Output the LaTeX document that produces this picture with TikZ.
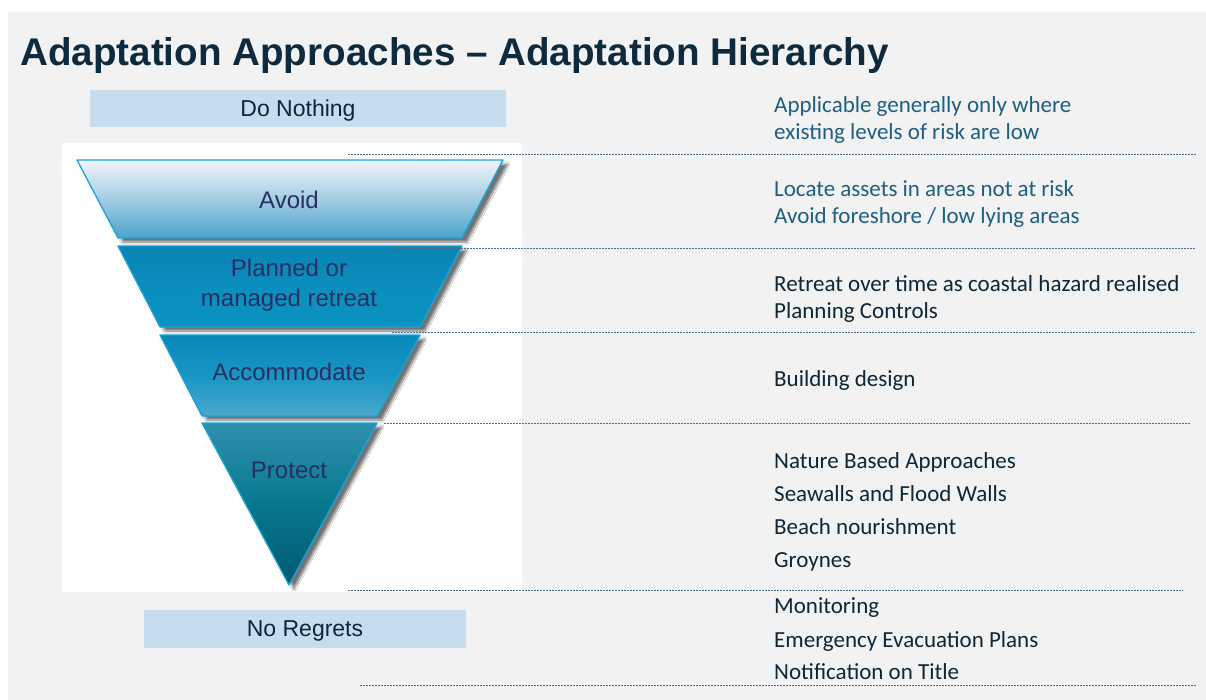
\documentclass[tikz,border=0pt]{standalone}
\usepackage{fontspec}
\setmainfont{Liberation Sans}
\newfontfamily\calib{Carlito}
\usetikzlibrary{shadows.blur}

\definecolor{slidegray}{HTML}{F2F2F2}
\definecolor{titlenavy}{HTML}{0D2A3E}
\definecolor{boxblue}{HTML}{C6DDED}
\definecolor{edgeblue}{HTML}{1AA3DC}
\definecolor{labelink}{HTML}{2A2F62}
\definecolor{tealtext}{HTML}{1E5F82}
\definecolor{darktext}{HTML}{0E2636}
\definecolor{rulecol}{HTML}{4E6C86}
% band shading colours
\definecolor{avoidtop}{HTML}{F2F5FA}
\definecolor{avoidmid}{HTML}{A3CCE2}
\definecolor{avoidbot}{HTML}{4AA4CC}
\definecolor{plantop}{HTML}{0984B3}
\definecolor{planmid}{HTML}{0A8EBE}
\definecolor{planbot}{HTML}{0C93C2}
\definecolor{acctop}{HTML}{0888B8}
\definecolor{accmid}{HTML}{1A95C3}
\definecolor{accbot}{HTML}{48A8CE}
\definecolor{prottop}{HTML}{3090AD}
\definecolor{protmid}{HTML}{07788F}
\definecolor{protbot}{HTML}{005A70}

\tikzset{
  band/.style={draw=edgeblue, line width=1.3pt, line join=round,
    blur shadow={shadow xshift=5pt, shadow yshift=-4pt,
      shadow blur steps=10, shadow opacity=55}},
  bandlabel/.style={font=\fontsize{24}{30}\selectfont, text=labelink,
    align=center, inner sep=0pt},
  levelbox/.style={fill=boxblue, draw=none, inner sep=0pt, text depth=0pt,
    font=\fontsize{23}{27}\selectfont, text=darktext},
  rtxt/.style={anchor=base west, inner sep=0pt,
    font=\calib\fontsize{23}{27}\selectfont},
  sepline/.style={draw=rulecol, line width=0.6pt, dash pattern=on 2pt off 1pt}
}

\begin{document}
\begin{tikzpicture}[x=1pt, y=-1pt]
  \useasboundingbox (0,0) rectangle (1206,700);
  % slide background and the white panel behind the funnel
  \fill[white] (0,0) rectangle (1206,700);
  \fill[slidegray] (8,12) rectangle (1206,700);
  \fill[white] (62,143) rectangle (522,592);

  % title
  \node[anchor=base west, inner sep=0pt, text=titlenavy,
        font=\bfseries\fontsize{38.6}{44}\selectfont] (title) at (20,66)
        {Adaptation Approaches -- Adaptation Hierarchy};

  % levels outside the funnel
  \node[levelbox, minimum width=416pt, minimum height=37pt] (nothing) at (298,108.5) {Do Nothing};
  \node[levelbox, minimum width=322pt, minimum height=38pt] (regrets) at (305,628.5) {No Regrets};

  % funnel bands
  \path[band, top color=avoidtop, bottom color=avoidbot, middle color=avoidmid]
    (77,160) -- (503,160) -- (462,238) -- (118,238) -- cycle;
  \path[band, top color=plantop, bottom color=planbot, middle color=planmid]
    (118,246) -- (462,246) -- (420,327) -- (160,327) -- cycle;
  \path[band, top color=acctop, bottom color=accbot, middle color=accmid]
    (160,335) -- (420,335) -- (377,416) -- (202,416) -- cycle;
  \path[band, top color=prottop, bottom color=protbot, middle color=protmid]
    (202,423) -- (377,423) -- (289,585) -- cycle;

  \node[bandlabel] (avoid) at (289,200) {Avoid};
  \node[bandlabel] (retreat) at (289,285) {Planned or\\managed retreat};
  \node[bandlabel] (accom) at (289,372) {Accommodate};
  \node[bandlabel] (protect) at (289,470) {Protect};

  % dashed separators
  \coordinate (s1a) at (348,154);  \coordinate (s1b) at (1196,154);
  \coordinate (s2a) at (392,248);  \coordinate (s2b) at (1196,248);
  \coordinate (s3a) at (392,332);  \coordinate (s3b) at (1196,332);
  \coordinate (s4a) at (384,423);  \coordinate (s4b) at (1190,423);
  \coordinate (s5a) at (348,590);  \coordinate (s5b) at (1183,590);
  \coordinate (s6a) at (360,685);  \coordinate (s6b) at (1196,685);
  \foreach \k in {1,...,6} \draw[sepline] (s\k a) -- (s\k b);

  % descriptions
  \node[rtxt, text=tealtext] (d1a) at (774,113) {Applicable generally only where};
  \node[rtxt, text=tealtext] (d1b) at (774,140) {existing levels of risk are low};
  \node[rtxt, text=tealtext] (d2a) at (774,197) {Locate assets in areas not at risk};
  \node[rtxt, text=tealtext] (d2b) at (774,224) {Avoid foreshore / low lying areas};
  \node[rtxt, text=darktext] (d3a) at (774,291) {Retreat over time as coastal hazard realised};
  \node[rtxt, text=darktext] (d3b) at (774,319) {Planning Controls};
  \node[rtxt, text=darktext] (d4a) at (774,386) {Building design};
  \node[rtxt, text=darktext] (d5a) at (774,468) {Nature Based Approaches};
  \node[rtxt, text=darktext] (d5b) at (774,501) {Seawalls and Flood Walls};
  \node[rtxt, text=darktext] (d5c) at (774,534) {Beach nourishment};
  \node[rtxt, text=darktext] (d5d) at (774,567) {Groynes};
  \node[rtxt, text=darktext] (d6a) at (774,613) {Monitoring};
  \node[rtxt, text=darktext] (d6b) at (774,647) {Emergency Evacuation Plans};
  \node[rtxt, text=darktext] (d6c) at (774,679) {Notification on Title};
\end{tikzpicture}
\end{document}
